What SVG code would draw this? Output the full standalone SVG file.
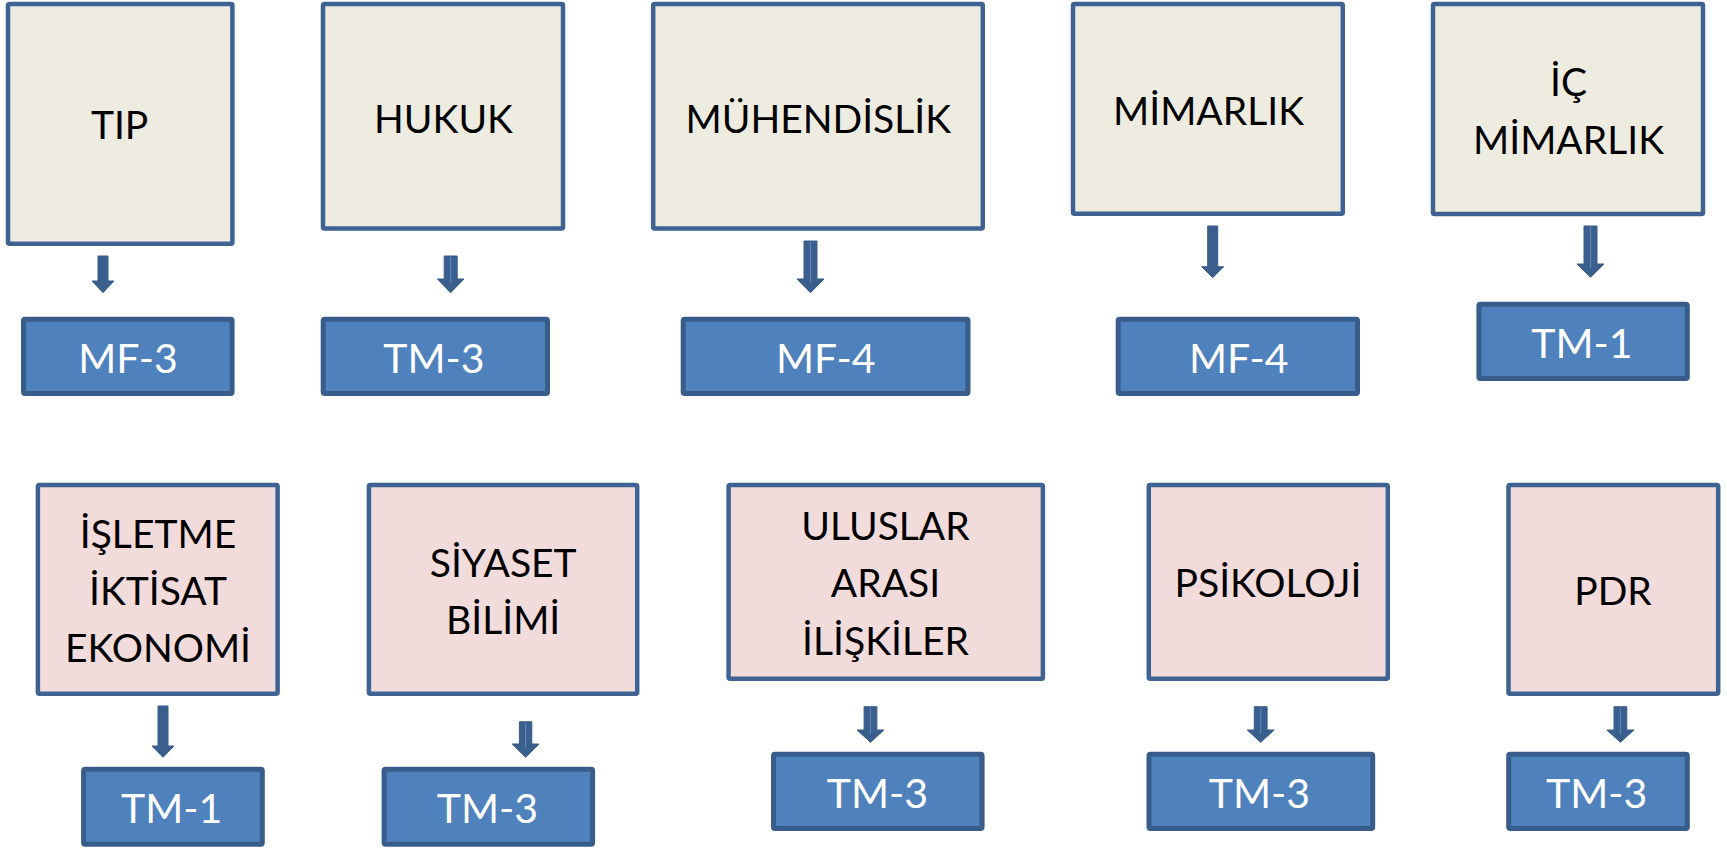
<svg xmlns="http://www.w3.org/2000/svg" width="1727" height="848" viewBox="0 0 1727 848">
<style>
  .bg { fill: #ffffff; }
  .src1 { fill: #EEECE1; stroke: #3E6392; stroke-width: 4.5; }
  .src2 { fill: #F2DCDB; stroke: #3E6392; stroke-width: 4.5; }
  .dst { fill: #4F81BD; stroke: #385D8A; stroke-width: 5; }
  .lbl { font-family: Lato, "Liberation Sans", sans-serif; font-size: 39px; fill: #000000; text-anchor: middle; }
  .code { font-family: Lato, "Liberation Sans", sans-serif; font-size: 41px; fill: #ffffff; text-anchor: middle; }
  .arr { fill: #3A5F8D; stroke: #385D8A; stroke-width: 1; stroke-linejoin: miter; }
  .stripe { stroke: #5B83BA; stroke-width: 1.2; }
</style>
<rect class="bg" x="0" y="0" width="1727" height="848"/>

<g id="connectors">
  <polygon class="arr" points="98,256 108,256 108,281 114,281 103,292.7 92,281 98,281"/>
  <polygon class="arr" points="444.2,256 457.2,256 457.2,279 464,279 450.7,292.7 437.4,279 444.2,279"/>
  <line class="stripe" x1="450.7" y1="257" x2="450.7" y2="283"/>
  <polygon class="arr" points="804,241 817,241 817,279 824,279 810.5,292.7 797,279 804,279"/>
  <line class="stripe" x1="810.5" y1="242" x2="810.5" y2="283"/>
  <polygon class="arr" points="1207.7,226 1217.7,226 1217.7,266.7 1223.7,266.7 1212.7,277.7 1201.7,266.7 1207.7,266.7"/>
  <polygon class="arr" points="1584,226 1597,226 1597,264 1604,264 1590.5,277.3 1577,264 1584,264"/>
  <line class="stripe" x1="1590.5" y1="227" x2="1590.5" y2="268"/>
  <polygon class="arr" points="158,706 168,706 168,746 174,746 163,757.3 152,746 158,746"/>
  <polygon class="arr" points="519.4,721.7 531.8,721.7 531.8,744 539,744 525.6,757.3 512.2,744 519.4,744"/>
  <line class="stripe" x1="525.6" y1="722.7" x2="525.6" y2="748"/>
  <polygon class="arr" points="864.1,706.7 876.9,706.7 876.9,730 884,730 870.5,742.3 857,730 864.1,730"/>
  <line class="stripe" x1="870.5" y1="707.7" x2="870.5" y2="734"/>
  <polygon class="arr" points="1254.3,706.7 1267.1,706.7 1267.1,730 1274.2,730 1260.7,742.3 1247.2,730 1254.3,730"/>
  <line class="stripe" x1="1260.7" y1="707.7" x2="1260.7" y2="734"/>
  <polygon class="arr" points="1614,706.7 1626.8,706.7 1626.8,730 1633.9,730 1620.4,742.3 1606.9,730 1614,730"/>
  <line class="stripe" x1="1620.4" y1="707.7" x2="1620.4" y2="734"/>
</g>

<g id="tip"><rect class="src1" x="8" y="4" width="224.4" height="239.8" rx="1.5"/><text class="lbl" x="119.6" y="139.3">TIP</text></g>
<g id="hukuk"><rect class="src1" x="323" y="4" width="240" height="224.5" rx="1.5"/><text class="lbl" x="443.5" y="133.3">HUKUK</text></g>
<g id="muhendislik"><rect class="src1" x="653.2" y="4" width="329.6" height="224.5" rx="1.5"/><text class="lbl" x="818.3" y="133.3">MÜHENDİSLİK</text></g>
<g id="mimarlik"><rect class="src1" x="1073" y="4" width="269.8" height="209.7" rx="1.5"/><text class="lbl" x="1208.5" y="125">MİMARLIK</text></g>
<g id="ic-mimarlik"><rect class="src1" x="1433" y="4" width="270" height="210" rx="1.5"/><text class="lbl" x="1568.5" y="95.7">İÇ</text><text class="lbl" x="1568.5" y="154">MİMARLIK</text></g>

<g id="mf3-a"><rect class="dst" x="23.5" y="319.2" width="208.6" height="74.3" rx="1.5"/><text class="code" x="128" y="372.7">MF-3</text></g>
<g id="tm3-a"><rect class="dst" x="323.2" y="319.2" width="224.3" height="74.3" rx="1.5"/><text class="code" x="434" y="372.7">TM-3</text></g>
<g id="mf4-a"><rect class="dst" x="683.2" y="319.2" width="284.8" height="74.3" rx="1.5"/><text class="code" x="825.8" y="372.7">MF-4</text></g>
<g id="mf4-b"><rect class="dst" x="1118.2" y="319.2" width="239.3" height="74.3" rx="1.5"/><text class="code" x="1238.8" y="373">MF-4</text></g>
<g id="tm1-a"><rect class="dst" x="1478.9" y="304.2" width="208.4" height="74.3" rx="1.5"/><text class="code" x="1582" y="357.7">TM-1</text></g>

<g id="isletme"><rect class="src2" x="37.9" y="485" width="239.7" height="208.8" rx="1.5"/><text class="lbl" x="158" y="548.3">İŞLETME</text><text class="lbl" x="158" y="605.3">İKTİSAT</text><text class="lbl" x="158" y="662.3">EKONOMİ</text></g>
<g id="siyaset"><rect class="src2" x="368.9" y="485" width="268.3" height="208.8" rx="1.5"/><text class="lbl" x="503.2" y="576.7">SİYASET</text><text class="lbl" x="503.2" y="634">BİLİMİ</text></g>
<g id="uluslararasi"><rect class="src2" x="728.6" y="485" width="314.3" height="193.7" rx="1.5"/><text class="lbl" x="885.5" y="540">ULUSLAR</text><text class="lbl" x="885.5" y="597.3">ARASI</text><text class="lbl" x="885.5" y="655">İLİŞKİLER</text></g>
<g id="psikoloji"><rect class="src2" x="1148.8" y="485" width="239" height="193.7" rx="1.5"/><text class="lbl" x="1268" y="597.3">PSİKOLOJİ</text></g>
<g id="pdr"><rect class="src2" x="1508.5" y="485" width="209.7" height="208.8" rx="1.5"/><text class="lbl" x="1613" y="605">PDR</text></g>

<g id="tm1-b"><rect class="dst" x="83.6" y="769.2" width="178.7" height="75" rx="1.5"/><text class="code" x="171.6" y="822.7">TM-1</text></g>
<g id="tm3-b"><rect class="dst" x="384.1" y="769.2" width="208.5" height="75" rx="1.5"/><text class="code" x="487.4" y="822.7">TM-3</text></g>
<g id="tm3-c"><rect class="dst" x="773.5" y="754.2" width="208.6" height="74.3" rx="1.5"/><text class="code" x="877.5" y="807.7">TM-3</text></g>
<g id="tm3-d"><rect class="dst" x="1149" y="754.2" width="223.7" height="74.3" rx="1.5"/><text class="code" x="1259.5" y="807.7">TM-3</text></g>
<g id="tm3-e"><rect class="dst" x="1508.7" y="754.2" width="178.6" height="74.3" rx="1.5"/><text class="code" x="1596.7" y="807.7">TM-3</text></g>
</svg>
